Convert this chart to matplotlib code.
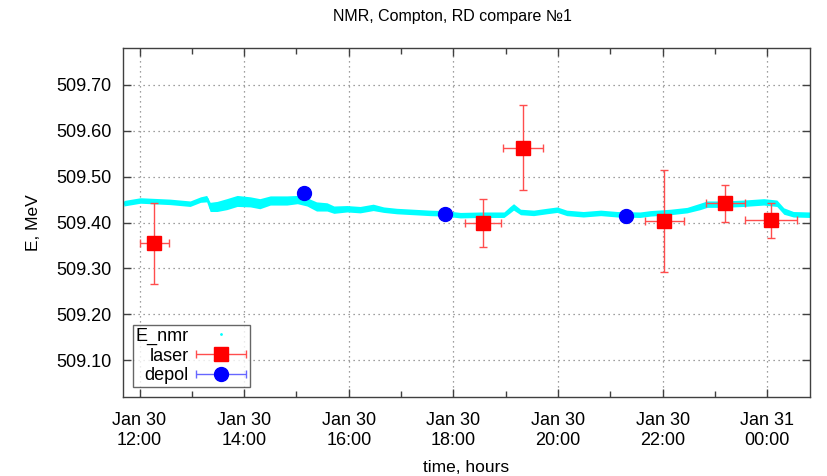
import datetime as dt
import numpy as np
import matplotlib
matplotlib.use("Agg")
import matplotlib.pyplot as plt
import matplotlib.dates as mdates
from matplotlib.legend_handler import HandlerErrorbar

plt.rcParams['font.family'] = ['Liberation Sans', 'DejaVu Sans']

# E_nmr trace (band centre and half-width)
nmr_time = ["30 11:42", "30 12:01", "30 12:35", "30 12:58", "30 13:10", "30 13:17",
            "30 13:21", "30 13:29", "30 13:40", "30 13:52", "30 14:07", "30 14:18",
            "30 14:30", "30 14:49", "30 15:01", "30 15:12", "30 15:23", "30 15:35",
            "30 15:43", "30 15:58", "30 16:13", "30 16:28", "30 16:40", "30 16:55",
            "30 17:14", "30 17:33", "30 17:49", "30 18:08", "30 18:31", "30 18:58",
            "30 19:05", "30 19:09", "30 19:17", "30 19:32", "30 19:47", "30 19:59",
            "30 20:10", "30 20:29", "30 20:49", "30 21:08", "30 21:34", "30 21:46",
            "30 22:09", "30 22:28", "30 22:43", "30 22:51", "30 23:10", "30 23:33",
            "30 23:56", "31 00:11", "31 00:19", "31 00:30", "31 00:49"]
nmr_e = [509.442, 509.448, 509.445, 509.441, 509.450, 509.452,
         509.434, 509.435, 509.440, 509.447, 509.445, 509.441,
         509.448, 509.448, 509.450, 509.445, 509.435, 509.434,
         509.428, 509.430, 509.428, 509.433, 509.428, 509.425,
         509.423, 509.421, 509.420, 509.416, 509.417, 509.417,
         509.428, 509.434, 509.423, 509.421, 509.425, 509.428,
         509.421, 509.418, 509.421, 509.418, 509.417, 509.420,
         509.423, 509.427, 509.435, 509.440, 509.440, 509.442,
         509.445, 509.442, 509.425, 509.418, 509.417]
nmr_w = [0.006, 0.006, 0.006, 0.006, 0.006, 0.007,
         0.010, 0.011, 0.012, 0.012, 0.011, 0.011,
         0.010, 0.010, 0.009, 0.009, 0.010, 0.009,
         0.008, 0.007, 0.007, 0.007, 0.006, 0.006,
         0.006, 0.006, 0.006, 0.006, 0.006, 0.006,
         0.007, 0.007, 0.006, 0.006, 0.006, 0.006,
         0.006, 0.006, 0.006, 0.006, 0.006, 0.006,
         0.006, 0.006, 0.007, 0.007, 0.007, 0.007,
         0.007, 0.007, 0.007, 0.006, 0.006]

# laser (Compton) points
laser_time = ["30 12:17", "30 18:34", "30 19:20", "30 22:02", "30 23:12", "31 00:04"]
laser_dt_min = [17, 21, 23, 22, 22, 30]
laser_e = [509.355, 509.399, 509.563, 509.404, 509.442, 509.405]
laser_de = [0.088, 0.053, 0.092, 0.111, 0.040, 0.038]

# resonance depolarization points
depol_time = ["30 15:09", "30 17:50", "30 21:18"]
depol_e = [509.464, 509.419, 509.414]


def to_dt(s):
    return dt.datetime.strptime("2020-01-" + s, "%Y-%m-%d %H:%M")


t_nmr = [to_dt(s) for s in nmr_time]
t_las = [to_dt(s) for s in laser_time]
t_dep = [to_dt(s) for s in depol_time]
las_xerr = [dt.timedelta(minutes=m) for m in laser_dt_min]
dep_xerr = [dt.timedelta(minutes=0)] * len(t_dep)

fig = plt.figure(figsize=(8.27, 4.76), dpi=100)
ax = fig.add_axes([0.1487, 0.166, 0.8307, 0.733])

e = np.array(nmr_e)
w = np.array(nmr_w)
ax.fill_between(t_nmr, e - w, e + w, color='cyan', lw=0, zorder=2)
ax.plot(t_nmr, nmr_e, ls='none', marker='.', ms=2, color='cyan', label='E_nmr', zorder=2)

las = ax.errorbar(t_las, laser_e, xerr=las_xerr, yerr=laser_de, fmt='s', ms=10,
                  color='red', ecolor=(1, 0.3, 0.3), elinewidth=1, capsize=3,
                  label='laser', zorder=4)
dep = ax.errorbar(t_dep, depol_e, xerr=dep_xerr, yerr=[0] * len(t_dep), fmt='o', ms=10,
                  color='blue', ecolor=(0.4, 0.4, 1), elinewidth=1, capsize=3,
                  label='depol', zorder=4)
las.has_yerr = False
dep.has_yerr = False

ax.set_xlim(to_dt("30 11:41"), to_dt("31 00:49"))
ax.set_ylim(509.02, 509.78)

ax.xaxis.set_major_locator(mdates.HourLocator(byhour=range(0, 24, 2)))
ax.xaxis.set_minor_locator(mdates.HourLocator())
ax.xaxis.set_major_formatter(mdates.DateFormatter('%b %d\n%H:%M'))
ax.set_yticks([509.1, 509.2, 509.3, 509.4, 509.5, 509.6, 509.7])
ax.yaxis.set_major_formatter(matplotlib.ticker.FormatStrFormatter('%.2f'))

ax.tick_params(which='both', direction='in', top=True, right=True, color='#404040')
ax.tick_params(which='major', length=6, width=1, labelsize=13)
ax.tick_params(axis='x', which='major', pad=11)
ax.tick_params(axis='y', which='major', pad=8)
ax.tick_params(which='minor', length=4, width=1)
for s in ax.spines.values():
    s.set_color('#404040')
    s.set_linewidth(1)
ax.grid(True, which='major', ls=(0, (1, 3)), color='#808080', lw=0.9)
ax.set_axisbelow(True)

# gnuplot-like key: text right-aligned, sample on the right
hmap = {las: HandlerErrorbar(xerr_size=1.38), dep: HandlerErrorbar(xerr_size=1.38)}
leg = ax.legend(loc='lower left', markerfirst=False, fontsize=13, frameon=True,
                fancybox=False, edgecolor='#404040', borderpad=0.15,
                labelspacing=0.15, handlelength=2.9, handletextpad=0.35,
                borderaxespad=0.55, handler_map=hmap)
leg.get_frame().set_linewidth(1)

fig.text(452 / 827, 1 - 17 / 476, 'NMR, Compton, RD compare №1', ha='center', va='center', fontsize=11.5)
fig.text(33 / 827, 0.5325, 'E, MeV', rotation=90, ha='center', va='center', fontsize=12.5)
fig.text(466 / 827, 9 / 476, 'time, hours', ha='center', va='center', fontsize=12.5)

fig.savefig('out.png', dpi=100)
